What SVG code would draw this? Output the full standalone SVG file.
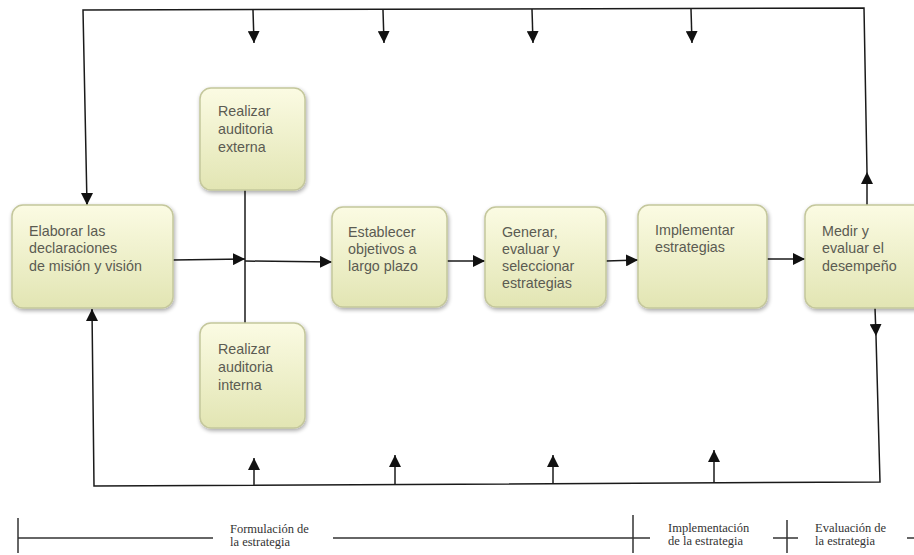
<svg xmlns="http://www.w3.org/2000/svg" width="914" height="555" viewBox="0 0 914 555">
<defs>
<linearGradient id="g" x1="0" y1="0" x2="0" y2="1">
<stop offset="0" stop-color="#fbfbe3"/>
<stop offset="1" stop-color="#e2e5b3"/>
</linearGradient>
<filter id="sh" x="-10%" y="-10%" width="125%" height="125%">
<feGaussianBlur in="SourceAlpha" stdDeviation="2"/>
<feOffset dx="1" dy="2" result="b"/>
<feComponentTransfer><feFuncA type="linear" slope="0.35"/></feComponentTransfer>
<feMerge><feMergeNode/><feMergeNode in="SourceGraphic"/></feMerge>
</filter>
<marker id="ar" markerUnits="userSpaceOnUse" markerWidth="12" markerHeight="12" refX="12" refY="6" orient="auto">
<path d="M0,0 L12,6 L0,12 z" fill="#111"/>
</marker>
</defs>
<style>
.box{fill:url(#g);stroke:#c4c79c;stroke-width:1.5;filter:url(#sh)}
.t{font-family:"Liberation Sans",Arial,sans-serif;font-size:14.3px;fill:#5b5b52}
.c{fill:none;stroke:#1a1a1a;stroke-width:1.5}
.tl{fill:none;stroke:#333;stroke-width:1.5}
.s{font-family:"Liberation Serif","Times New Roman",serif;font-size:12.5px;fill:#333}
</style>
<g id="connectors">
<polyline class="c" points="87,205 83,10 864,8 867,172"/>
<line class="c" x1="867" y1="205" x2="867" y2="172" marker-end="url(#ar)"/>
<line class="c" x1="253" y1="10" x2="254" y2="43" marker-end="url(#ar)"/>
<line class="c" x1="383" y1="10" x2="384" y2="43" marker-end="url(#ar)"/>
<line class="c" x1="532" y1="9" x2="533" y2="43" marker-end="url(#ar)"/>
<line class="c" x1="691" y1="9" x2="692" y2="43" marker-end="url(#ar)"/>
<line class="c" x1="87" y1="195" x2="87" y2="205" marker-end="url(#ar)"/>
<line class="c" x1="875" y1="308" x2="876" y2="336" marker-end="url(#ar)"/>
<polyline class="c" points="876,336 880,482 94,486 92,310"/>
<line class="c" x1="92" y1="320" x2="92" y2="309" marker-end="url(#ar)"/>
<line class="c" x1="254" y1="485" x2="254" y2="458" marker-end="url(#ar)"/>
<line class="c" x1="395" y1="485" x2="395" y2="455" marker-end="url(#ar)"/>
<line class="c" x1="553" y1="484" x2="553" y2="455" marker-end="url(#ar)"/>
<line class="c" x1="714" y1="483" x2="714" y2="450" marker-end="url(#ar)"/>
<line class="c" x1="173" y1="260" x2="245" y2="259" marker-end="url(#ar)"/>
<line class="c" x1="245" y1="190" x2="245" y2="323"/>
<line class="c" x1="245" y1="261" x2="332" y2="262" marker-end="url(#ar)"/>
<line class="c" x1="447" y1="261" x2="485" y2="261" marker-end="url(#ar)"/>
<line class="c" x1="606" y1="261" x2="638" y2="260" marker-end="url(#ar)"/>
<line class="c" x1="767" y1="259" x2="805" y2="259" marker-end="url(#ar)"/>
</g>
<g id="n1"><rect class="box" x="12" y="205" width="161" height="103" rx="11"/>
<text class="t" x="29" y="236">Elaborar las</text><text class="t" x="29" y="253">declaraciones</text><text class="t" x="29" y="271">de misión y visión</text></g>
<g id="n2"><rect class="box" x="200" y="88" width="105" height="102" rx="11"/>
<text class="t" x="218" y="116">Realizar</text><text class="t" x="218" y="134">auditoria</text><text class="t" x="218" y="152">externa</text></g>
<g id="n3"><rect class="box" x="200" y="323" width="105" height="105" rx="11"/>
<text class="t" x="218" y="354">Realizar</text><text class="t" x="218" y="372">auditoria</text><text class="t" x="218" y="390">interna</text></g>
<g id="n4"><rect class="box" x="332" y="207" width="115" height="100" rx="11"/>
<text class="t" x="348" y="237">Establecer</text><text class="t" x="348" y="254">objetivos a</text><text class="t" x="348" y="271">largo plazo</text></g>
<g id="n5"><rect class="box" x="485" y="207" width="121" height="100" rx="11"/>
<text class="t" x="502" y="237">Generar,</text><text class="t" x="502" y="254">evaluar y</text><text class="t" x="502" y="271">seleccionar</text><text class="t" x="502" y="288">estrategias</text></g>
<g id="n6"><rect class="box" x="638" y="205" width="129" height="103" rx="11"/>
<text class="t" x="655" y="235">Implementar</text><text class="t" x="655" y="252">estrategias</text></g>
<g id="n7"><rect class="box" x="805" y="205" width="130" height="103" rx="11"/>
<text class="t" x="822" y="236">Medir y</text><text class="t" x="822" y="253">evaluar el</text><text class="t" x="822" y="271">desempeño</text></g>
<g id="timeline">
<line class="tl" x1="18" y1="518" x2="18" y2="553"/>
<line class="tl" x1="18" y1="538" x2="213" y2="538"/>
<line class="tl" x1="333" y1="538" x2="650" y2="538"/>
<line class="tl" x1="633" y1="515" x2="633" y2="553"/>
<line class="tl" x1="773" y1="538" x2="798" y2="538"/>
<line class="tl" x1="787" y1="520" x2="787" y2="553"/>
<line class="tl" x1="907" y1="538" x2="914" y2="538"/>
<text class="s" x="230" y="533">Formulación de</text><text class="s" x="230" y="546">la estrategia</text>
<text class="s" x="668" y="532">Implementación</text><text class="s" x="668" y="545">de la estrategia</text>
<text class="s" x="815" y="532">Evaluación de</text><text class="s" x="815" y="545">la estrategia</text>
</g>
</svg>
